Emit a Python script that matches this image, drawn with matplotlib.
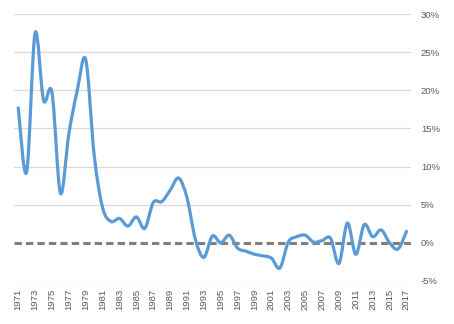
import numpy as np
import matplotlib
matplotlib.use("Agg")
import matplotlib.pyplot as plt
from matplotlib.path import Path
from matplotlib.patches import PathPatch
from matplotlib.ticker import FuncFormatter

# Annual change (%), 1971-2017
years = list(range(1971, 2018))
values = [
    17.7, 9.3, 27.5, 18.7, 19.7, 6.5, 14.3, 20.0, 24.0, 11.5,   # 1971-1980
    4.6, 2.8, 3.2, 2.2, 3.4, 1.9, 5.3, 5.4, 6.9, 8.5,           # 1981-1990
    5.9, 0.4, -1.9, 0.9, 0.0, 1.0, -0.7, -1.1, -1.5, -1.7,      # 1991-2000
    -2.0, -3.3, 0.1, 0.8, 1.0, 0.1, 0.3, 0.6, -2.7, 2.6,        # 2001-2010
    -1.5, 2.4, 0.8, 1.7, 0.0, -0.8, 1.5,                        # 2011-2017
]
y_ticks = [-5, 0, 5, 10, 15, 20, 25, 30]

LINE_BLUE = "#5B9BD5"
DASH_GRAY = "#7F7F7F"
GRID_GRAY = "#D9D9D9"
TEXT_GRAY = "#595959"

plt.rcParams["font.family"] = ["Liberation Sans", "DejaVu Sans"]

fig = plt.figure(figsize=(4.54, 3.24), dpi=100)
W, H = 454, 324
left, right, top, bottom = 14, 410.7, 14, 281
ax = fig.add_axes([left / W, 1 - bottom / H, (right - left) / W, (bottom - top) / H])

# smoothed line: cubic Bezier segments through every data point
x = np.array(years, dtype=float)
y = np.array(values, dtype=float)
n = len(x)
verts = [(x[0], y[0])]
codes = [Path.MOVETO]
for i in range(n - 1):
    xp, yp = (x[i - 1], y[i - 1]) if i > 0 else (x[i], y[i])
    xn2, yn2 = (x[i + 2], y[i + 2]) if i + 2 < n else (x[i + 1], y[i + 1])
    c1 = (x[i] + (x[i + 1] - xp) / 6, y[i] + (y[i + 1] - yp) / 6)
    c2 = (x[i + 1] - (xn2 - x[i]) / 6, y[i + 1] - (yn2 - y[i]) / 6)
    verts += [c1, c2, (x[i + 1], y[i + 1])]
    codes += [Path.CURVE4] * 3

ax.set_xlim(years[0] - 0.5, years[-1] + 0.5)
ax.set_ylim(y_ticks[0], y_ticks[-1])

for t in y_ticks:
    if t != 0:
        ax.axhline(t, color=GRID_GRAY, lw=0.9, zorder=1)

ax.axhline(0, color=DASH_GRAY, lw=2.2, linestyle=(0, (2.4, 1.35)), zorder=2)

ax.add_patch(PathPatch(Path(verts, codes), facecolor="none", edgecolor=LINE_BLUE,
                       lw=2.3, capstyle="round", joinstyle="round", zorder=3))

for s in ax.spines.values():
    s.set_visible(False)

ax.yaxis.tick_right()
ax.set_yticks(y_ticks)
ax.yaxis.set_major_formatter(FuncFormatter(lambda v, _: f"{int(v)}%"))
ax.tick_params(axis="y", length=0, pad=7.4, labelsize=6.8, labelcolor=TEXT_GRAY)

ax.set_xticks(years[::2])
ax.set_xticklabels([str(yr) for yr in years[::2]], rotation=90, va="top")
ax.tick_params(axis="x", length=0, pad=5.6, labelsize=6.8, labelcolor=TEXT_GRAY)

fig.savefig("out.png", dpi=100, facecolor="white")
